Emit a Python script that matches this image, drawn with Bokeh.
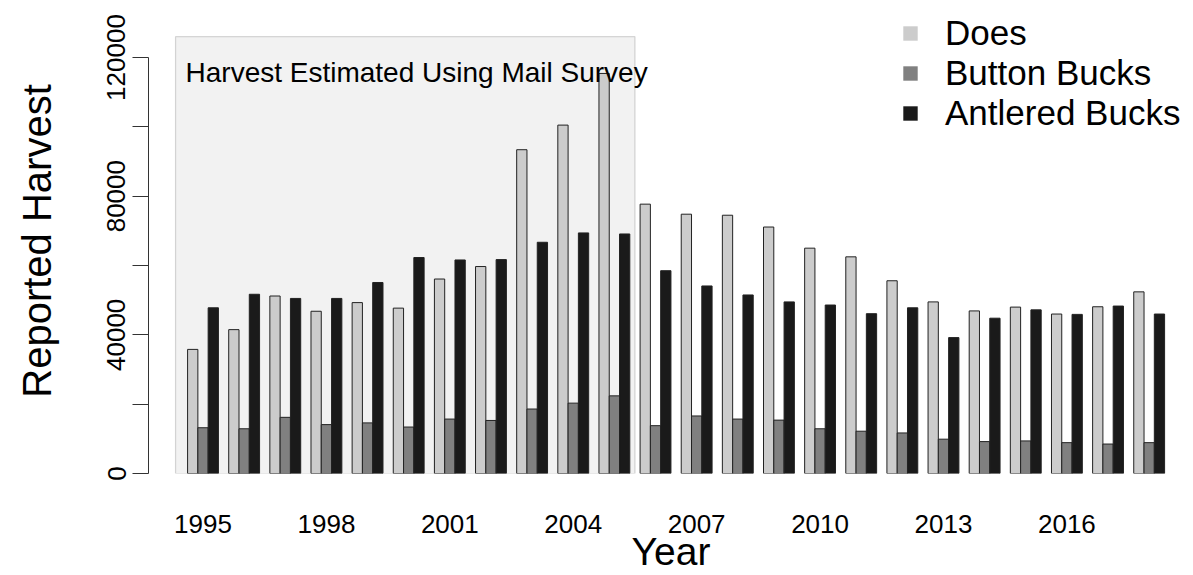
import numpy as np
from bokeh.plotting import figure
from bokeh.models import (Range1d, FixedTicker, BoxAnnotation, Label, Legend,
                          LegendItem, ColumnDataSource)
from bokeh.embed import file_html
from bokeh.resources import INLINE

# ---------------- data ----------------
years = list(range(1995, 2019))
does = [35800, 41500, 51200, 46800, 49300, 47700, 56100, 59700, 93400, 100500,
        115400, 77700, 74800, 74500, 71100, 65000, 62500, 55600, 49500, 46900,
        48000, 46000, 48100, 52400]
button_bucks = [13200, 12900, 16200, 14100, 14600, 13400, 15700, 15300, 18600,
                20300, 22400, 13800, 16600, 15700, 15400, 12900, 12200, 11700,
                9900, 9200, 9400, 8900, 8500, 8900]
antlered_bucks = [47800, 51700, 50500, 50500, 55100, 62300, 61600, 61700, 66700,
                  69400, 69100, 58500, 54100, 51500, 49500, 48600, 46100, 47800,
                  39200, 44800, 47200, 45900, 48300, 46000]
series_names = ["Does", "Button Bucks", "Antlered Bucks"]
series_values = [does, button_bucks, antlered_bucks]
series_colors = ["#cccccc", "#808080", "#1a1a1a"]
tick_years = [1995, 1998, 2001, 2004, 2007, 2010, 2013, 2016]
y_ticks = [0, 20000, 40000, 60000, 80000, 100000, 120000]
y_tick_labels = ["0", "", "40000", "", "80000", "", "120000"]
survey_first, survey_last = 1995, 2005
survey_text = "Harvest Estimated Using Mail Survey"
x_title = "Year"
y_title = "Reported Harvest"

FONT = "Liberation Sans"

# grouped bar layout (barplot style: one gap + three bars per year)
idx = np.arange(len(years))
group_left = 4 * idx + 1.0
group_center = group_left + 1.5
pad = 3.8  # 4% extension of the bar span on each side
x_lo = group_left[0] - pad

p = figure(width=1193, height=575, output_backend="svg", toolbar_location=None,
           x_range=Range1d(x_lo, 98.81), y_range=Range1d(0, 134135),
           min_border_left=148, min_border_right=0, min_border_top=8,
           min_border_bottom=102)
p.outline_line_color = None
p.xgrid.visible = False
p.ygrid.visible = False
p.background_fill_color = "white"

# shaded survey period
i0 = years.index(survey_first)
i1 = years.index(survey_last)
box = BoxAnnotation(left=group_left[i0] - 1.17, right=group_left[i1] + 3.5,
                    bottom=0, top=126000, fill_color="#f2f2f2", fill_alpha=1.0,
                    line_color="#7a7a7a", line_width=1.2, level="underlay")
p.add_layout(box)

for k, (vals, col) in enumerate(zip(series_values, series_colors)):
    src = ColumnDataSource(dict(x=group_left + k + 0.5, top=vals))
    p.vbar(x="x", top="top", bottom=0, width=1.0, source=src,
           fill_color=col, line_color="#222222", line_width=1)

p.add_layout(Label(x=group_left[i0] - 0.2, y=115700, text=survey_text,
                   text_font=FONT, text_font_size="28px",
                   text_baseline="alphabetic", text_color="black"))

# legend (square keys without border, like R's pch=15)
items = []
for k, (name, vals, col) in enumerate(zip(series_names, series_values, series_colors)):
    r = p.scatter(x=group_left + k + 0.5, y=vals, marker="square", size=0,
                  fill_color=col, line_color=None)
    items.append(LegendItem(label=name, renderers=[r]))
legend = Legend(items=items, location=(744, 340), glyph_width=36,
                glyph_height=40, label_height=40, label_standoff=17,
                padding=0, spacing=0, margin=0, border_line_color=None,
                background_fill_alpha=0, label_text_font=FONT,
                label_text_font_size="35px", label_text_color="black")
p.add_layout(legend)

# y axis
ya = p.yaxis[0]
ya.ticker = FixedTicker(ticks=y_ticks)
ya.major_label_overrides = {t: l for t, l in zip(y_ticks, y_tick_labels)}
ya.major_label_orientation = "vertical"
ya.major_tick_out = 16
ya.major_tick_in = 0
ya.minor_tick_out = 0
ya.minor_tick_in = 0
ya.bounds = (0, 120000)
ya.axis_line_color = "#333333"
ya.major_tick_line_color = "#333333"
ya.major_label_standoff = 7
ya.major_label_text_font = FONT
ya.major_label_text_font_size = "26px"
ya.major_label_text_color = "black"
ya.axis_label = y_title
ya.axis_label_text_font = FONT
ya.axis_label_text_font_size = "40px"
ya.axis_label_text_font_style = "normal"
ya.axis_label_text_color = "black"
ya.axis_label_standoff = 46

# x axis
xa = p.xaxis[0]
tick_pos = [float(group_center[years.index(y)]) for y in tick_years]
xa.ticker = FixedTicker(ticks=tick_pos)
xa.major_label_overrides = {t: str(y) for t, y in zip(tick_pos, tick_years)}
xa.axis_line_color = None
xa.major_tick_line_color = None
xa.minor_tick_line_color = None
xa.major_tick_out = 0
xa.major_tick_in = 0
xa.major_label_standoff = 41
xa.major_label_text_font = FONT
xa.major_label_text_font_size = "26px"
xa.major_label_text_color = "black"
xa.axis_label = x_title
xa.axis_label_text_font = FONT
xa.axis_label_text_font_size = "39px"
xa.axis_label_text_font_style = "normal"
xa.axis_label_text_color = "black"
xa.axis_label_standoff = -6

open("out.html", "w").write(file_html(p, INLINE))
